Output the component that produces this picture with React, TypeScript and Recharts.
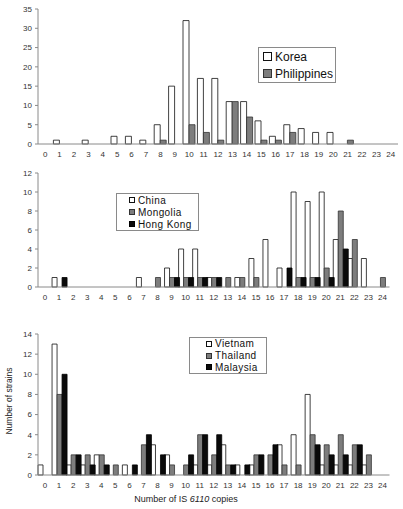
import { BarChart, Bar, XAxis, YAxis } from 'recharts'

const copies = [0, 1, 2, 3, 4, 5, 6, 7, 8, 9, 10, 11, 12, 13, 14, 15, 16, 17, 18, 19, 20, 21, 22, 23, 24]

const korea = [0, 1, 0, 1, 0, 2, 2, 1, 5, 15, 32, 17, 17, 11, 11, 6, 2, 5, 4, 3, 3, 0, 0, 0, 0]
const philippines = [0, 0, 0, 0, 0, 0, 0, 0, 1, 0, 5, 3, 1, 11, 7, 1, 1, 3, 0, 0, 0, 1, 0, 0, 0]

const china = [0, 1, 0, 0, 0, 0, 0, 1, 0, 2, 4, 4, 1, 0, 1, 3, 5, 2, 10, 9, 10, 5, 3, 3, 0]
const mongolia = [0, 0, 0, 0, 0, 0, 0, 0, 1, 1, 1, 1, 1, 1, 1, 1, 0, 0, 1, 1, 2, 8, 5, 0, 1]
const hongKong = [0, 1, 0, 0, 0, 0, 0, 0, 0, 1, 1, 1, 1, 0, 0, 0, 0, 2, 1, 1, 1, 4, 0, 0, 0]

const vietnam = [1, 13, 1, 1, 2, 0, 1, 0, 3, 2, 0, 1, 1, 3, 1, 1, 0, 3, 4, 8, 1, 1, 1, 1, 0]
const thailand = [0, 8, 2, 2, 2, 1, 0, 3, 0, 1, 1, 4, 2, 1, 0, 2, 2, 1, 1, 4, 3, 4, 3, 2, 0]
const malaysia = [0, 10, 2, 1, 1, 0, 1, 4, 2, 0, 2, 4, 4, 1, 1, 2, 3, 0, 0, 3, 2, 2, 3, 0, 0]

const ticks1 = [0, 5, 10, 15, 20, 25, 30, 35]
const ticks2 = [0, 2, 4, 6, 8, 10, 12]
const ticks3 = [0, 2, 4, 6, 8, 10, 12, 14]

const FONT = '"Liberation Sans", Arial, sans-serif'
const WHITE = { fill: '#ffffff', stroke: '#111' }
const GRAY = { fill: '#7d7d7d', stroke: '#333' }
const BLACK = { fill: '#0a0a0a', stroke: '#000' }

type Series = { key: string; name: string; values: number[]; style: { fill: string; stroke: string } }

function buildRows(series: Series[]) {
  return copies.map((n, i) => {
    const row: Record<string, number> = { n }
    series.forEach((s) => {
      row[s.key] = s.values[i]
    })
    return row
  })
}

interface PanelProps {
  series: Series[]
  ticks: number[]
  top: number
  plotTop: number
  plotBottom: number
  plotRight: number
  xAxisHeight: number
  catGap: number
  withTitles?: boolean
}

function Panel({ series, ticks, top, plotTop, plotBottom, plotRight, xAxisHeight, catGap, withTitles }: PanelProps) {
  const rows = buildRows(series)
  const height = plotBottom - top + xAxisHeight
  return (
    <div style={{ position: 'absolute', left: 0, top }}>
      <BarChart
        width={403}
        height={height}
        data={rows}
        margin={{ top: plotTop - top, right: 403 - plotRight, bottom: 0, left: 8 }}
        barCategoryGap={catGap}
        barGap={0}
      >
        <XAxis
          dataKey="n"
          interval={0}
          height={xAxisHeight}
          tickLine={false}
          tickSize={0}
          tickMargin={7}
          axisLine={{ stroke: '#8a8a8a' }}
          tick={{ fontSize: 8, fill: '#333', fontFamily: FONT }}
          label={
            withTitles
              ? {
                  content: () => (
                    <text x={186} y={plotBottom - top + 27} textAnchor="middle" fontSize={9} fill="#222" fontFamily={FONT}>
                      Number of IS <tspan fontStyle="italic">6110</tspan> copies
                    </text>
                  ),
                }
              : undefined
          }
        />
        <YAxis
          width={30}
          domain={[0, ticks[ticks.length - 1]]}
          ticks={ticks}
          interval={0}
          tickSize={3}
          tickMargin={3}
          tickLine={{ stroke: '#8a8a8a' }}
          axisLine={{ stroke: '#8a8a8a' }}
          tick={{ fontSize: 8, fill: '#333', fontFamily: FONT }}
          label={
            withTitles
              ? {
                  content: () => (
                    <text
                      x={9}
                      y={81}
                      transform={`rotate(-90, 9, 81)`}
                      textAnchor="middle"
                      dominantBaseline="central"
                      fontSize={8.5}
                      fill="#222"
                      fontFamily={FONT}
                    >
                      Number of strains
                    </text>
                  ),
                }
              : undefined
          }
        />
        {series.map((s) => (
          <Bar
            key={s.key}
            dataKey={s.key}
            name={s.name}
            fill={s.style.fill}
            stroke={s.style.stroke}
            strokeWidth={0.8}
            isAnimationActive={false}
          />
        ))}
      </BarChart>
    </div>
  )
}

interface LegendBoxProps {
  series: Series[]
  left: number
  top: number
  width: number
  height: number
  padLeft: number
  fontSize: number
  swatch: number
  rowHeight: number
  spacing?: number
}

function LegendBox({ series, left, top, width, height, padLeft, fontSize, swatch, rowHeight, spacing = 0 }: LegendBoxProps) {
  return (
    <div
      style={{
        position: 'absolute',
        left,
        top,
        width,
        height,
        boxSizing: 'border-box',
        border: '1px solid #8a8a8a',
        background: '#fff',
        paddingLeft: padLeft,
        display: 'flex',
        flexDirection: 'column',
        justifyContent: 'center',
        fontFamily: FONT,
        fontSize,
        color: '#111',
        letterSpacing: spacing,
      }}
    >
      {series.map((s) => (
        <div key={s.key} style={{ display: 'flex', alignItems: 'center', height: rowHeight, whiteSpace: 'nowrap' }}>
          <span
            style={{
              display: 'inline-block',
              width: swatch,
              height: swatch,
              boxSizing: 'border-box',
              background: s.style.fill,
              border: `1px solid ${s.style.stroke}`,
              marginRight: 3,
            }}
          />
          {s.name}
        </div>
      ))}
    </div>
  )
}

const series1: Series[] = [
  { key: 'korea', name: 'Korea', values: korea, style: WHITE },
  { key: 'philippines', name: 'Philippines', values: philippines, style: GRAY },
]
const series2: Series[] = [
  { key: 'china', name: 'China', values: china, style: WHITE },
  { key: 'mongolia', name: 'Mongolia', values: mongolia, style: GRAY },
  { key: 'hongKong', name: 'Hong Kong', values: hongKong, style: BLACK },
]
const series3: Series[] = [
  { key: 'vietnam', name: 'Vietnam', values: vietnam, style: WHITE },
  { key: 'thailand', name: 'Thailand', values: thailand, style: GRAY },
  { key: 'malaysia', name: 'Malaysia', values: malaysia, style: BLACK },
]

export default function App() {
  return (
    <div style={{ position: 'absolute', left: 0, top: 0, width: 403, height: 509, background: '#fff', overflow: 'hidden' }}>
      <Panel series={series1} ticks={ticks1} top={0} plotTop={9} plotBottom={144} plotRight={398} xAxisHeight={16} catGap={1} />
      <Panel series={series2} ticks={ticks2} top={160} plotTop={173} plotBottom={287} plotRight={389.5} xAxisHeight={20} catGap={0} />
      <Panel
        series={series3}
        ticks={ticks3}
        top={320}
        plotTop={334}
        plotBottom={475}
        plotRight={389.5}
        xAxisHeight={34}
        catGap={0}
        withTitles
      />
      <LegendBox series={series1} left={258} top={47} width={78} height={36} padLeft={4} fontSize={12} swatch={9} rowHeight={17} />
      <LegendBox series={series2} left={116} top={193} width={83} height={38} padLeft={12} fontSize={10} swatch={6} rowHeight={12} spacing={0.4} />
      <LegendBox series={series3} left={189} top={337} width={78} height={37} padLeft={16} fontSize={10} swatch={6} rowHeight={12} spacing={0.4} />
    </div>
  )
}
